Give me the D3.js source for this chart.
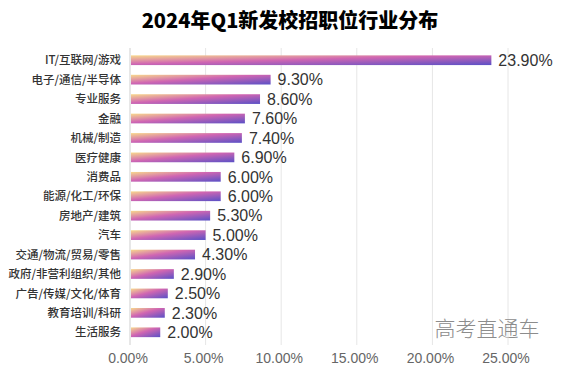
<!DOCTYPE html>
<html>
<head>
<meta charset="utf-8">
<script src="https://cdn.jsdelivr.net/npm/d3@7"></script>
<style>
  body { margin: 0; background: #fff; }
  svg { display: block; }
</style>
</head>
<body>
<div id="chart"></div>
<script>
// industries, top to bottom
var categories = ["IT/互联网/游戏", "电子/通信/半导体", "专业服务", "金融", "机械/制造", "医疗健康",
    "消费品", "能源/化工/环保", "房地产/建筑", "汽车", "交通/物流/贸易/零售",
    "政府/非营利组织/其他", "广告/传媒/文化/体育", "教育培训/科研", "生活服务"];
var shares = [23.9, 9.3, 8.6, 7.6, 7.4, 6.9, 6.0, 6.0, 5.3, 5.0, 4.3, 2.9, 2.5, 2.3, 2.0];
var xTicks = [0, 5, 10, 15, 20, 25];

var width = 570, height = 369;
var margin = { top: 50.5, right: 62, bottom: 27, left: 130 };

var svg = d3.select("#chart")
    .append("svg")
    .attr("width", width)
    .attr("height", height);

// diagonal gradient: peach top-left -> pink -> blue purple bottom-right
var grad = svg.append("defs").append("linearGradient")
    .attr("id", "barGrad")
    .attr("x1", 0).attr("y1", 0)
    .attr("x2", 1).attr("y2", 1);
grad.append("stop").attr("offset", "0%").attr("stop-color", "#f8d98c");
grad.append("stop").attr("offset", "45%").attr("stop-color", "#d066b2");
grad.append("stop").attr("offset", "100%").attr("stop-color", "#5a50c6");

var x = d3.scaleLinear()
    .domain([0, 25])
    .range([margin.left, width - margin.right]);

var y = d3.scaleBand()
    .domain(categories)
    .range([margin.top, height - margin.bottom])
    .paddingInner(0.5)
    .paddingOuter(0.25);

// title
svg.append("text")
    .attr("x", 290)
    .attr("y", 28)
    .attr("text-anchor", "middle")
    .style("font-family", "'Noto Sans CJK SC', 'Noto Sans', sans-serif")
    .style("font-size", "20px")
    .style("font-weight", 900)
    .style("fill", "#000")
    .text("2024年Q1新发校招职位行业分布");

// vertical grid lines
svg.append("g")
    .selectAll("line")
    .data(xTicks.slice(1))
    .enter()
    .append("line")
    .attr("x1", function (d) { return x(d); })
    .attr("x2", function (d) { return x(d); })
    .attr("y1", 48)
    .attr("y2", 345)
    .attr("stroke", "#e6e6e6")
    .attr("stroke-width", 1);

// left axis line
svg.append("line")
    .attr("x1", x(0)).attr("x2", x(0))
    .attr("y1", 48).attr("y2", 345)
    .attr("stroke", "#cfcfcf")
    .attr("stroke-width", 1);

// x tick labels
svg.append("g")
    .selectAll("text")
    .data(xTicks)
    .enter()
    .append("text")
    .attr("x", function (d) { return x(d) - 2; })
    .attr("y", 363)
    .attr("text-anchor", "middle")
    .style("font-family", "'Liberation Sans', Arial, sans-serif")
    .style("font-size", "14px")
    .style("fill", "#666")
    .text(function (d) { return d.toFixed(2) + "%"; });

// category labels
svg.append("g")
    .selectAll("text")
    .data(categories)
    .enter()
    .append("text")
    .attr("x", 121)
    .attr("y", function (d) { return y(d) + y.bandwidth() / 2; })
    .attr("dy", "0.36em")
    .attr("text-anchor", "end")
    .style("font-family", "'Noto Sans CJK SC', sans-serif")
    .style("font-size", "11.5px")
    .style("font-weight", 500)
    .style("fill", "#333")
    .text(function (d) { return d; });

// bars
svg.append("g")
    .selectAll("rect")
    .data(shares)
    .enter()
    .append("rect")
    .attr("x", x(0) + 1)
    .attr("y", function (d, i) { return y(categories[i]); })
    .attr("width", function (d) { return x(d) - x(0) - 1; })
    .attr("height", y.bandwidth())
    .attr("fill", "url(#barGrad)");

// value labels
svg.append("g")
    .selectAll("text")
    .data(shares)
    .enter()
    .append("text")
    .attr("x", function (d) { return x(d) + 7; })
    .attr("y", function (d, i) { return y(categories[i]) + y.bandwidth() / 2; })
    .attr("dy", "0.36em")
    .style("font-family", "'Liberation Sans', Arial, sans-serif")
    .style("font-size", "16px")
    .style("fill", "#333")
    .text(function (d) { return d.toFixed(2) + "%"; });

// watermark
svg.append("text")
    .attr("x", 487)
    .attr("y", 336)
    .attr("text-anchor", "middle")
    .style("font-family", "'Noto Sans CJK SC', sans-serif")
    .style("font-size", "21px")
    .style("font-weight", 300)
    .style("fill", "#8c8c8c")
    .text("高考直通车");
</script>
</body>
</html>
